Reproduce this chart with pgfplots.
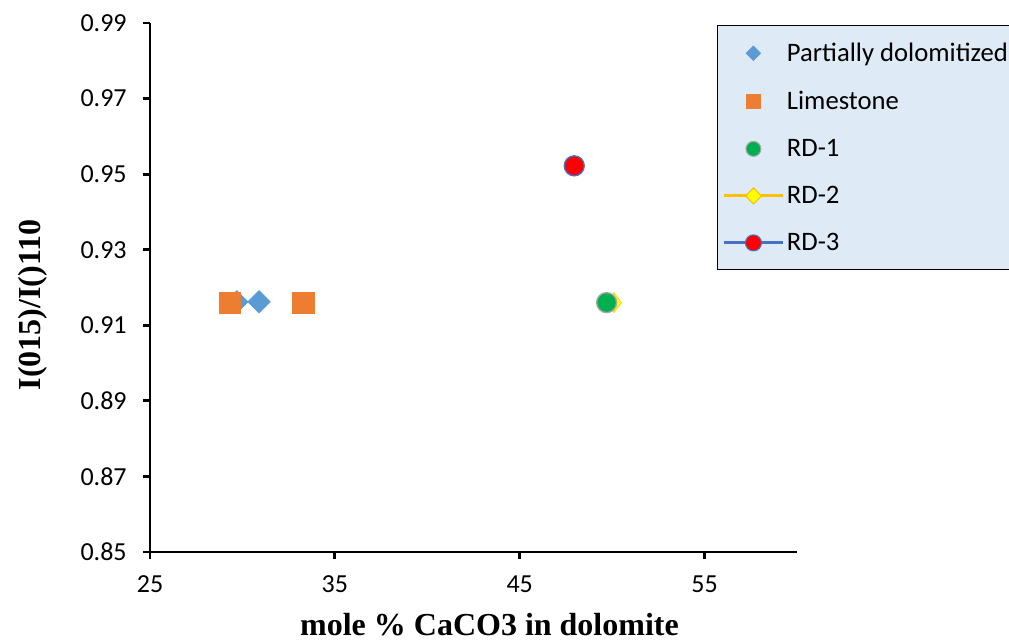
\documentclass[border=0pt]{standalone}
\usepackage{pgfplots}
\pgfplotsset{compat=1.18}
\usepackage{fontspec}
\setmainfont{Carlito}
\newfontfamily\timesfont{Liberation Serif}
\definecolor{cblue}{HTML}{5B9BD5}
\definecolor{corange}{HTML}{ED7D31}
\definecolor{cgreen}{HTML}{00B050}
\definecolor{cgold}{HTML}{FFC000}
\definecolor{cyel}{HTML}{FFFF00}
\definecolor{cred}{HTML}{FF0000}
\definecolor{cdblue}{HTML}{4472C4}
\definecolor{legbg}{HTML}{DEEBF7}
\begin{document}
\begin{tikzpicture}
\path[use as bounding box] (0,0) rectangle (756.75pt,482.25pt);
\begin{axis}[
  at={(112.5pt,68.25pt)}, anchor=south west,
  scale only axis, width=485.25pt, height=396.75pt,
  xmin=25, xmax=60, ymin=0.85, ymax=0.99,
  xtick={25,35,45,55}, ytick={0.85,0.87,...,0.99},
  axis x line=bottom, axis y line=left,
  axis line style={line width=2.2pt, -},
  tick style={line width=2.2pt, black},
  tick align=outside, major tick length=5pt,
  /pgf/number format/assume math mode=true,
  yticklabel style={/pgf/number format/fixed, /pgf/number format/fixed zerofill, /pgf/number format/precision=2},
  ticklabel style={font=\fontsize{19.5}{22}\selectfont},
  xticklabel style={yshift=-9pt},
  yticklabel style={xshift=-9pt},
  xlabel={\timesfont\bfseries mole \% CaCO3 in dolomite},
  ylabel={\timesfont\bfseries I(015)/I()110},
  label style={font=\fontsize{24}{28}\selectfont},
  xlabel style={yshift=-9pt, xshift=12pt},
  ylabel style={yshift=18pt, xshift=-13pt},
  clip=false,
  legend style={at={(0.876,0.996)}, anchor=north west, fill=legbg, draw=black, line width=0.8pt,
    font=\fontsize{20}{24}\selectfont, row sep=16.8pt, inner xsep=4pt, inner ysep=11pt,
    cells={anchor=west}},
]
\addplot[only marks, mark=square*, mark size=6pt, mark options={rotate=45, draw=cblue, fill=cblue}, forget plot] coordinates {(29.7,0.9162) (30.9,0.9162)};
\addplot[only marks, mark=square*, mark size=8pt, mark options={draw=corange, fill=corange}, forget plot] coordinates {(29.3,0.9160) (33.3,0.9160)};
\addplot[only marks, mark=diamond*, mark size=7.5pt, mark options={draw=cgold, fill=cyel}, forget plot] coordinates {(50.1,0.9160)};
\addplot[only marks, mark=*, mark size=7.5pt, mark options={draw=gray!70, fill=cgreen, line width=1pt}, forget plot] coordinates {(49.7,0.9160)};
\addplot[only marks, mark=*, mark size=7.5pt, mark options={draw=cdblue, fill=cred, line width=1pt}, forget plot] coordinates {(47.95,0.9522)};
\addlegendimage{legend image code/.code={\draw[draw=cblue, fill=cblue, rotate around={45:(22pt,0pt)}] (18.3pt,-3.7pt) rectangle (25.7pt,3.7pt);}}
\addlegendentry{Partially dolomitized}
\addlegendimage{legend image code/.code={\draw[draw=corange, fill=corange] (16.5pt,-5.5pt) rectangle (27.5pt,5.5pt);}}
\addlegendentry{Limestone}
\addlegendimage{legend image code/.code={\draw[draw=gray!70, fill=cgreen, line width=0.8pt] (22pt,0pt) circle (5.6pt);}}
\addlegendentry{RD-1}
\addlegendimage{legend image code/.code={\draw[draw=cgold, line width=2.2pt] (0pt,0pt) -- (44pt,0pt); \draw[draw=cgold, fill=cyel, line width=0.8pt] (22pt,-6pt) -- (28pt,0pt) -- (22pt,6pt) -- (16pt,0pt) -- cycle;}}
\addlegendentry{RD-2}
\addlegendimage{legend image code/.code={\draw[draw=cdblue, line width=2.2pt] (0pt,0pt) -- (44pt,0pt); \draw[draw=cdblue, fill=cred, line width=0.8pt] (22pt,0pt) circle (6pt);}}
\addlegendentry{RD-3}
\end{axis}
\end{tikzpicture}
\end{document}
